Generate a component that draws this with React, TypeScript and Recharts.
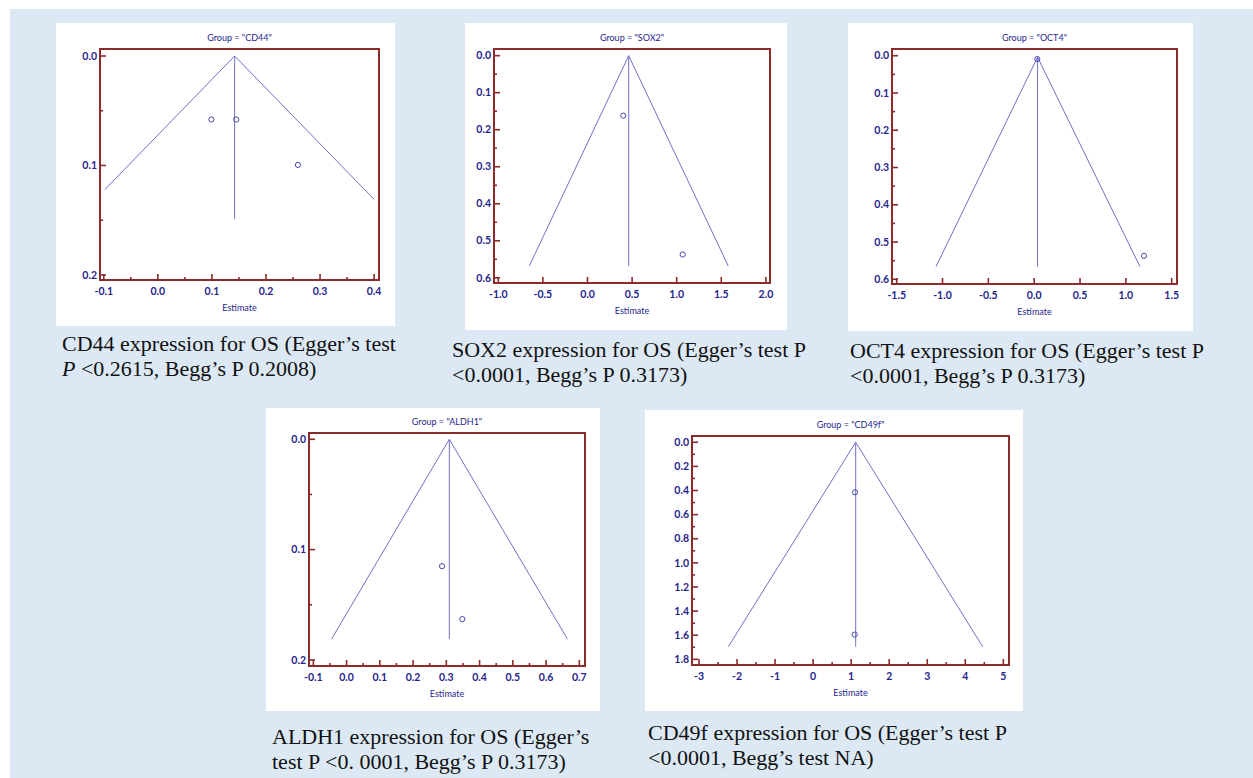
import React from 'react';
import {
  ComposedChart,
  Line,
  Scatter,
  XAxis,
  YAxis,
  ReferenceArea,
} from 'recharts';

// funnel plots: estimate on x, standard error on y (reversed)
interface Pt {
  est: number;
  se: number;
}

const cd44Points: Pt[] = [
  { est: 0.099, se: 0.058 },
  { est: 0.145, se: 0.058 },
  { est: 0.259, se: 0.0995 },
];
const cd44Funnel: Pt[] = [
  { est: -0.098, se: 0.122 },
  { est: 0.142, se: 0 },
  { est: 0.4, se: 0.131 },
];
const cd44Center: Pt[] = [
  { est: 0.142, se: 0 },
  { est: 0.142, se: 0.149 },
];
const cd44XTicks = [-0.1, 0, 0.1, 0.2, 0.3, 0.4];
const cd44XMinor = [-0.05, 0.05, 0.15, 0.25, 0.35];
const cd44YTicks = [0, 0.1, 0.2];
const cd44YMinor = [0.05, 0.15];

const sox2Points: Pt[] = [
  { est: 0.401, se: 0.162 },
  { est: 1.067, se: 0.537 },
];
const sox2Funnel: Pt[] = [
  { est: -0.652, se: 0.568 },
  { est: 0.462, se: 0 },
  { est: 1.578, se: 0.568 },
];
const sox2Center: Pt[] = [
  { est: 0.462, se: 0 },
  { est: 0.462, se: 0.568 },
];
const sox2XTicks = [-1, -0.5, 0, 0.5, 1, 1.5, 2];
const sox2YTicks = [0, 0.1, 0.2, 0.3, 0.4, 0.5, 0.6];
const sox2YMinor = [0.05, 0.15, 0.25, 0.35, 0.45, 0.55];

const oct4Points: Pt[] = [
  { est: 0.034, se: 0.009 },
  { est: 1.198, se: 0.537 },
];
const oct4Funnel: Pt[] = [
  { est: -1.071, se: 0.566 },
  { est: 0.037, se: 0.004 },
  { est: 1.154, se: 0.566 },
];
const oct4Center: Pt[] = [
  { est: 0.037, se: 0.004 },
  { est: 0.037, se: 0.566 },
];
const oct4XTicks = [-1.5, -1, -0.5, 0, 0.5, 1, 1.5];
const oct4YTicks = [0, 0.1, 0.2, 0.3, 0.4, 0.5, 0.6];
const oct4YMinor = [0.05, 0.15, 0.25, 0.35, 0.45, 0.55];

const aldh1Points: Pt[] = [
  { est: 0.287, se: 0.115 },
  { est: 0.348, se: 0.163 },
];
const aldh1Funnel: Pt[] = [
  { est: -0.045, se: 0.181 },
  { est: 0.309, se: 0 },
  { est: 0.664, se: 0.181 },
];
const aldh1Center: Pt[] = [
  { est: 0.309, se: 0 },
  { est: 0.309, se: 0.181 },
];
const aldh1XTicks = [-0.1, 0, 0.1, 0.2, 0.3, 0.4, 0.5, 0.6, 0.7];
const aldh1XMinor = [-0.05, 0.05, 0.15, 0.25, 0.35, 0.45, 0.55, 0.65];
const aldh1YTicks = [0, 0.1, 0.2];
const aldh1YMinor = [0.05, 0.15];

const cd49fPoints: Pt[] = [
  { est: 1.101, se: 0.415 },
  { est: 1.093, se: 1.595 },
];
const cd49fFunnel: Pt[] = [
  { est: -2.229, se: 1.695 },
  { est: 1.119, se: 0 },
  { est: 4.457, se: 1.695 },
];
const cd49fCenter: Pt[] = [
  { est: 1.119, se: 0 },
  { est: 1.119, se: 1.695 },
];
const cd49fXTicks = [-3, -2, -1, 0, 1, 2, 3, 4, 5];
const cd49fXMinor = [-2.5, -1.5, -0.5, 0.5, 1.5, 2.5, 3.5, 4.5];
const cd49fYTicks = [0, 0.2, 0.4, 0.6, 0.8, 1, 1.2, 1.4, 1.6, 1.8];
const cd49fYMinor = [0.1, 0.3, 0.5, 0.7, 0.9, 1.1, 1.3, 1.5, 1.7];

const FRAME = '#8b2b2b';
const LINE = '#7070c8';
const INK = '#25258c';
const FONT = 'Lato, "Open Sans", sans-serif';

const isMajor = (v: number, majors: number[]) =>
  majors.some((m) => Math.abs(m - v) < 1e-9);

const OpenDot = (props: any) => (
  <circle cx={props.cx} cy={props.cy} r={2.6} fill="none" stroke="#4a4aae" strokeWidth={1} />
);

interface PanelProps {
  title: string;
  left: number;
  top: number;
  width: number;
  height: number;
  plot: { left: number; top: number; width: number; height: number };
  xDomain: [number, number];
  yDomain: [number, number];
  xTicks: number[];
  xMinor: number[];
  yTicks: number[];
  yMinor: number[];
  xDec: number;
  yDec: number;
  points: Pt[];
  funnel: Pt[];
  center: Pt[];
}

function FunnelPanel(p: PanelProps) {
  const XTick = (t: any) => {
    const major = isMajor(t.payload.value, p.xTicks);
    return (
      <g>
        <line x1={t.x} y1={t.y} x2={t.x} y2={t.y - (major ? 6 : 3)} stroke={FRAME} strokeWidth={1.6} />
        {major && (
          <text x={t.x} y={t.y + 15} textAnchor="middle" fill={INK} fontSize={10.5} fontWeight="bold" fontFamily={FONT}>
            {t.payload.value.toFixed(p.xDec)}
          </text>
        )}
      </g>
    );
  };
  const YTick = (t: any) => {
    const major = isMajor(t.payload.value, p.yTicks);
    return (
      <g>
        <line x1={t.x} y1={t.y} x2={t.x + (major ? 6 : 3)} y2={t.y} stroke={FRAME} strokeWidth={1.6} />
        {major && (
          <text x={t.x - 3} y={t.y + 3.7} textAnchor="end" fill={INK} fontSize={10.5} fontWeight="bold" fontFamily={FONT}>
            {t.payload.value.toFixed(p.yDec)}
          </text>
        )}
      </g>
    );
  };

  const bottomH = p.height - p.plot.top - p.plot.height;
  return (
    <div
      style={{
        position: 'absolute',
        left: p.left,
        top: p.top,
        width: p.width,
        height: p.height,
        background: '#ffffff',
      }}
    >
      <div
        style={{
          position: 'absolute',
          left: p.plot.left,
          width: p.plot.width,
          top: p.plot.top - 17,
          textAlign: 'center',
          fontFamily: FONT,
          fontSize: 9,
          color: INK,
        }}
      >
        {p.title}
      </div>
      <ComposedChart
        width={p.width}
        height={p.height}
        margin={{ top: p.plot.top, right: p.width - p.plot.left - p.plot.width, bottom: 0, left: 0 }}
      >
        <XAxis
          dataKey="est"
          type="number"
          domain={p.xDomain}
          allowDataOverflow
          ticks={[...p.xTicks, ...p.xMinor]}
          interval={0}
          height={bottomH}
          axisLine={false}
          tickLine={false}
          tickSize={0}
          tickMargin={0}
          tick={XTick}
          label={{
            value: 'Estimate',
            position: 'insideTop',
            offset: 25,
            fill: INK,
            fontSize: 9,
            fontFamily: FONT,
          }}
        />
        <YAxis
          dataKey="se"
          type="number"
          reversed
          domain={p.yDomain}
          allowDataOverflow
          ticks={[...p.yTicks, ...p.yMinor]}
          interval={0}
          width={p.plot.left}
          axisLine={false}
          tickLine={false}
          tickSize={0}
          tickMargin={0}
          tick={YTick}
        />
        <ReferenceArea
          x1={p.xDomain[0]}
          x2={p.xDomain[1]}
          y1={p.yDomain[0]}
          y2={p.yDomain[1]}
          fill="none"
          stroke={FRAME}
          strokeWidth={2}
          ifOverflow="visible"
        />
        <Line
          data={p.funnel}
          dataKey="se"
          type="linear"
          stroke={LINE}
          strokeWidth={1}
          dot={false}
          isAnimationActive={false}
        />
        <Line
          data={p.center}
          dataKey="se"
          type="linear"
          stroke={LINE}
          strokeWidth={1}
          dot={false}
          isAnimationActive={false}
        />
        <Scatter data={p.points} shape={OpenDot} isAnimationActive={false} />
      </ComposedChart>
    </div>
  );
}

const captionStyle: React.CSSProperties = {
  position: 'absolute',
  fontFamily: '"Liberation Serif", "Times New Roman", serif',
  fontSize: 22,
  lineHeight: '25px',
  color: '#111',
  whiteSpace: 'nowrap',
};

export default function App() {
  return (
    <div style={{ position: 'absolute', left: 0, top: 0, width: 1253, height: 778, background: '#ffffff' }}>
      <div style={{ position: 'absolute', left: 10, top: 9, width: 1243, height: 769, background: '#dce9f5' }} />

      <FunnelPanel
        title={'Group = "CD44"'}
        left={56}
        top={23}
        width={339}
        height={303}
        plot={{ left: 44, top: 26, width: 279, height: 231 }}
        xDomain={[-0.107, 0.409]}
        yDomain={[-0.0064, 0.2046]}
        xTicks={cd44XTicks}
        xMinor={cd44XMinor}
        yTicks={cd44YTicks}
        yMinor={cd44YMinor}
        xDec={1}
        yDec={1}
        points={cd44Points}
        funnel={cd44Funnel}
        center={cd44Center}
      />
      <FunnelPanel
        title={'Group = "SOX2"'}
        left={465}
        top={23}
        width={322}
        height={307}
        plot={{ left: 29, top: 26, width: 276, height: 234 }}
        xDomain={[-1.048, 2.046]}
        yDomain={[-0.018, 0.614]}
        xTicks={sox2XTicks}
        xMinor={[]}
        yTicks={sox2YTicks}
        yMinor={sox2YMinor}
        xDec={1}
        yDec={1}
        points={sox2Points}
        funnel={sox2Funnel}
        center={sox2Center}
      />
      <FunnelPanel
        title={'Group = "OCT4"'}
        left={848}
        top={23}
        width={345}
        height={308}
        plot={{ left: 44, top: 26, width: 285, height: 235 }}
        xDomain={[-1.551, 1.558]}
        yDomain={[-0.018, 0.6126]}
        xTicks={oct4XTicks}
        xMinor={[]}
        yTicks={oct4YTicks}
        yMinor={oct4YMinor}
        xDec={1}
        yDec={1}
        points={oct4Points}
        funnel={oct4Funnel}
        center={oct4Center}
      />
      <FunnelPanel
        title={'Group = "ALDH1"'}
        left={266}
        top={408}
        width={334}
        height={303}
        plot={{ left: 43, top: 25, width: 276, height: 233 }}
        xDomain={[-0.113, 0.717]}
        yDomain={[-0.0057, 0.2055]}
        xTicks={aldh1XTicks}
        xMinor={aldh1XMinor}
        yTicks={aldh1YTicks}
        yMinor={aldh1YMinor}
        xDec={1}
        yDec={1}
        points={aldh1Points}
        funnel={aldh1Funnel}
        center={aldh1Center}
      />
      <FunnelPanel
        title={'Group = "CD49f"'}
        left={645}
        top={410}
        width={378}
        height={301}
        plot={{ left: 47, top: 26, width: 317, height: 229 }}
        xDomain={[-3.184, 5.149]}
        yDomain={[-0.052, 1.847]}
        xTicks={cd49fXTicks}
        xMinor={cd49fXMinor}
        yTicks={cd49fYTicks}
        yMinor={cd49fYMinor}
        xDec={0}
        yDec={1}
        points={cd49fPoints}
        funnel={cd49fFunnel}
        center={cd49fCenter}
      />

      <div style={{ ...captionStyle, left: 62, top: 331 }}>
        CD44 expression for OS (Egger’s test
        <br />
        <i>P</i> &lt;0.2615, Begg’s P 0.2008)
      </div>
      <div style={{ ...captionStyle, left: 452, top: 337 }}>
        SOX2 expression for OS (Egger’s test P
        <br />
        &lt;0.0001, Begg’s P 0.3173)
      </div>
      <div style={{ ...captionStyle, left: 850, top: 338 }}>
        OCT4 expression for OS (Egger’s test P
        <br />
        &lt;0.0001, Begg’s P 0.3173)
      </div>
      <div style={{ ...captionStyle, left: 272, top: 724 }}>
        ALDH1 expression for OS (Egger’s
        <br />
        test P &lt;0. 0001, Begg’s P 0.3173)
      </div>
      <div style={{ ...captionStyle, left: 648, top: 720 }}>
        CD49f expression for OS (Egger’s test P
        <br />
        &lt;0.0001, Begg’s test NA)
      </div>
    </div>
  );
}
